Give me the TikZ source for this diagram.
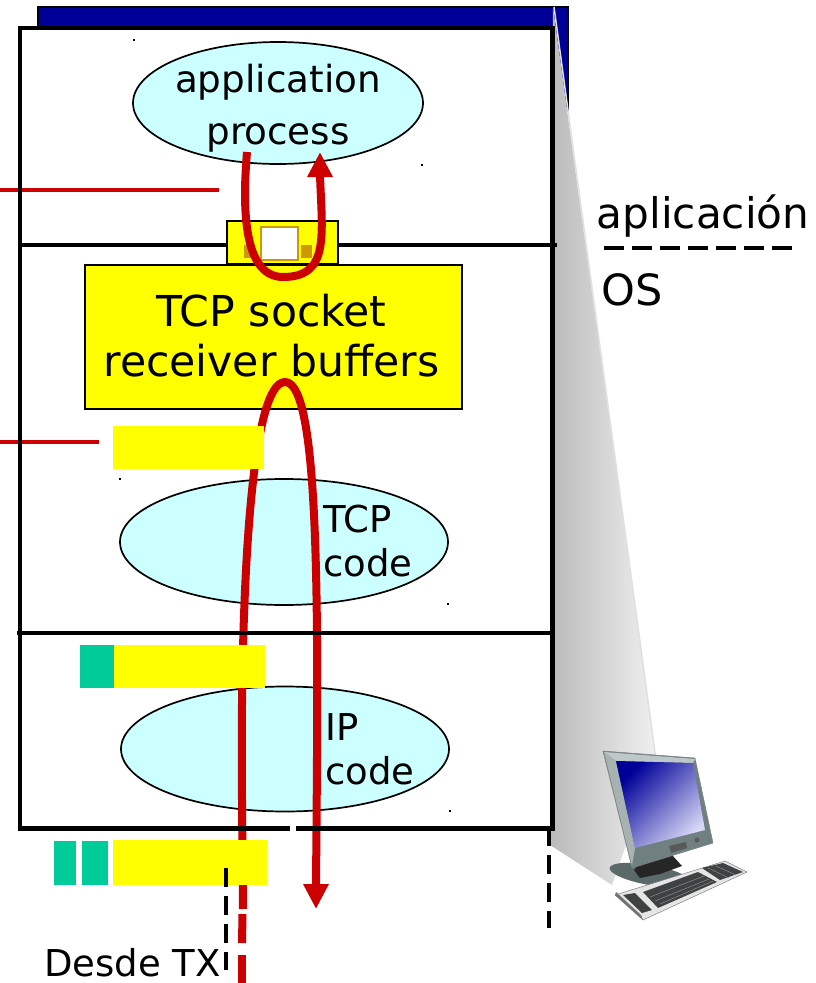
\documentclass[tikz,border=0pt]{standalone}
\usepackage{fontspec}
\setmainfont{DejaVu Sans}
\usetikzlibrary{arrows.meta,shapes.geometric}
\definecolor{navyb}{RGB}{0,0,153}
\definecolor{cyanb}{RGB}{204,255,255}
\definecolor{redl}{RGB}{204,0,0}
\definecolor{greenb}{RGB}{0,204,153}
\definecolor{goldb}{RGB}{204,153,0}
\definecolor{yelb}{RGB}{255,255,0}
\definecolor{bezel}{RGB}{112,128,128}
\definecolor{bezeltop}{RGB}{190,200,200}
\definecolor{basec}{RGB}{92,105,105}
\definecolor{keyc}{RGB}{62,66,66}
\tikzset{
 blk/.style={line width=4.2pt,black},
 dashline/.style={line width=4.2pt,black,dash pattern=on 19pt off 9pt},
 sepline/.style={line width=4.2pt,black,dash pattern=on 20pt off 8pt},
 oval/.style={ellipse,draw=black,line width=1.7pt,fill=cyanb,inner sep=0pt,minimum width=#1},
 ybar/.style={fill=yelb,draw=none,inner sep=0pt,anchor=north west},
 gbar/.style={fill=greenb,draw=none,inner sep=0pt,anchor=north west},
 redpath/.style={draw=redl,line width=8pt},
 redarrow/.style={redpath,-{Triangle[length=25pt,width=24pt]}},
 thinred/.style={draw=redl,line width=4pt},
 txt/.style={inner sep=0pt,align=left},
 speck/.style={fill=black,draw=none,inner sep=0pt,minimum size=2.5pt}
}
\begin{document}
\begin{tikzpicture}[x=1pt,y=-1pt]
\useasboundingbox (0,0) rectangle (815,983);
% back plate
\fill[navyb,draw=black,line width=2.5pt] (38,7) rectangle (568,110);
% wedge
\shade[left color=black!27,right color=black!6]
 (553,7) -- (656,760) -- (612,885) -- (550,845) -- cycle;
\draw[black!12,line width=1.5pt] (554,7) -- (656,760);
% main box
\node[draw=none,fill=white,minimum width=532pt,minimum height=800pt,inner sep=0pt,anchor=north west] (mainbox) at (20,28) {};
\coordinate (dashTop) at (549,827);
\coordinate (dashBot) at (549,928);
\draw[dashline] (dashTop) -- (dashBot);
% ellipses
\node[oval=290pt,minimum height=122pt] (app) at (278,103) {};
\node[txt,align=center,font=\fontsize{37.3}{52}\selectfont] (apptxt) at (278,108) {application\\process};
\node[oval=328pt,minimum height=126pt] (tcp) at (284,542) {};
\node[oval=328pt,minimum height=125pt] (ip) at (285,749) {};
\node[txt,font=\fontsize{37}{44}\selectfont,anchor=west] (tcptxt) at (323,541) {TCP\\code};
\node[txt,font=\fontsize{37}{44}\selectfont,anchor=west] (iptxt) at (325,749) {IP\\code};
% middle line
\coordinate (l1a) at (20,245); \coordinate (l1b) at (557,245);
\draw[blk] (l1a) -- (l1b);
% socket
\node[draw=black,line width=1.7pt,fill=yelb,minimum width=111pt,minimum height=43pt,inner sep=0pt,anchor=north west] (sock) at (226.2,220.2) {};
\node[draw=goldb,line width=1.7pt,fill=white,minimum width=37pt,minimum height=33pt,inner sep=0pt,anchor=north west] (sockin) at (260,226) {};
\node[fill=goldb,minimum width=11pt,minimum height=13pt,inner sep=0pt,anchor=north west] (sq1) at (244,245) {};
\node[fill=goldb,minimum width=11pt,minimum height=13pt,inner sep=0pt,anchor=north west] (sq2) at (301,245) {};
\node[draw=black,line width=1.7pt,fill=yelb,minimum width=377pt,minimum height=144pt,inner sep=0pt,anchor=north west] (buf) at (84.2,264.2) {};
\node[txt,align=center,font=\fontsize{42.6}{50}\selectfont] (buftxt) at (271.5,335.5) {TCP socket\\receiver buffers};
% specks
\node[speck] (s1) at (134,40) {};
\node[speck] (s2) at (422,165) {};
\node[speck] (s3) at (120,479) {};
\node[speck] (s4) at (448,604) {};
\node[speck] (s5) at (450,811) {};
% red lead lines
\coordinate (r1a) at (0,190); \coordinate (r1b) at (219,190);
\coordinate (r2a) at (0,442); \coordinate (r2b) at (99,442);
\draw[thinred] (r1a) -- (r1b);
\draw[thinred] (r2a) -- (r2b);
% red flows
\coordinate (uStart) at (247,152);
\coordinate (uEnd) at (320,152);
\draw[redarrow] (uStart) .. controls (243,200) and (241,277) .. (283,277)
  .. controls (330,277) and (322,235) .. (320,175) -- (uEnd);
\coordinate (fStart) at (243,909);
\coordinate (fEnd) at (316,909);
\draw[redarrow] (fStart) -- (242,800) .. controls (240,600) and (250,382) .. (285,382)
  .. controls (322,382) and (318,640) .. (316,885) -- (fEnd);
\coordinate (d1a) at (242.5,914); \coordinate (d1b) at (242,943);
\coordinate (d2a) at (242,955); \coordinate (d2b) at (242,983);
\draw[redpath] (d1a) -- (d1b);
\draw[redpath] (d2a) -- (d2b);
% bars
\node[ybar,minimum width=151pt,minimum height=43pt] (bar1) at (113,426) {};
\node[ybar,minimum width=151pt,minimum height=43pt] (bar2) at (114,645) {};
\node[gbar,minimum width=34pt,minimum height=43pt] (g1) at (80,645) {};
\node[ybar,minimum width=154pt,minimum height=45pt] (bar3) at (113,840) {};
\node[gbar,minimum width=22pt,minimum height=44pt] (g2) at (54,841) {};
\node[gbar,minimum width=26pt,minimum height=44pt] (g3) at (82,841) {};
% frame lines
\draw[blk] (mainbox.north west) rectangle (mainbox.south east);
\coordinate (l2a) at (17,633); \coordinate (l2b) at (555,633);
\draw[blk] (l2a) -- (l2b);
\fill[white] (290,825) rectangle (296,831);
% black dash
\coordinate (tx1) at (226,868); \coordinate (tx2) at (226,970);
\draw[dashline] (tx1) -- (tx2);
\node[txt,font=\fontsize{37}{44}\selectfont,anchor=base west] (desde) at (44,976) {Desde TX};
% right labels
\node[txt,font=\fontsize{42.2}{50}\selectfont,anchor=base west] (apl) at (596.5,228) {aplicación};
\node[txt,font=\fontsize{43}{48}\selectfont,anchor=base west] (os) at (601,305) {OS};
\coordinate (sepa) at (604,248); \coordinate (sepb) at (792,248);
\draw[sepline] (sepa) -- (sepb);
% computer: base
\fill[basec] (650,875) ellipse [x radius=41,y radius=10,rotate=-10];
\fill[black!85] (634,870) -- (645,858) -- (672,855) -- (682,866) -- (660,874) -- (640,878) -- cycle;
% computer: keyboard
\fill[black!10,draw=black!50,line width=.5pt] (615,895) -- (725,861) -- (747,872) -- (643,920) -- cycle;
\fill[keyc] (643,892) -- (698,872) -- (717,882) -- (658,908) -- cycle;
\fill[keyc] (702,868) -- (723,863) -- (743,872) -- (720,880) -- cycle;
\fill[keyc] (623,895) -- (635,893) -- (652,910) -- (642,913) -- cycle;
\fill[black!55] (615,895) -- (643,920) -- (641,915) -- (616,892) -- cycle;
\draw[black!45,line width=.5pt] (650,897) -- (704,876) (655,901) -- (709,879) (660,904) -- (713,881);
\draw[black!45,line width=.5pt] (708,868) -- (729,878) (716,866) -- (736,875);
% computer: monitor
\fill[bezel,draw=black!50,line width=.5pt] (603,751) -- (695,758) -- (713,843) -- (632,868) -- cycle;
\fill[bezeltop] (604,752) -- (695,759) -- (693,763) -- (616,761) -- cycle;
\fill[bezeltop!70!bezel] (604,752) -- (616,761) -- (635,848) -- (632,866) -- cycle;
\shade[top color=navyb,bottom color=black!20!blue!15!white,shading angle=45]
 (616,761) -- (693,763) -- (705,830) -- (635,848) -- cycle;
\fill[black!65] (669,846) -- (686,842) -- (687,848) -- (671,853) -- cycle;
\fill[black!65] (697,840) circle [radius=2.5];
\end{tikzpicture}
\end{document}
